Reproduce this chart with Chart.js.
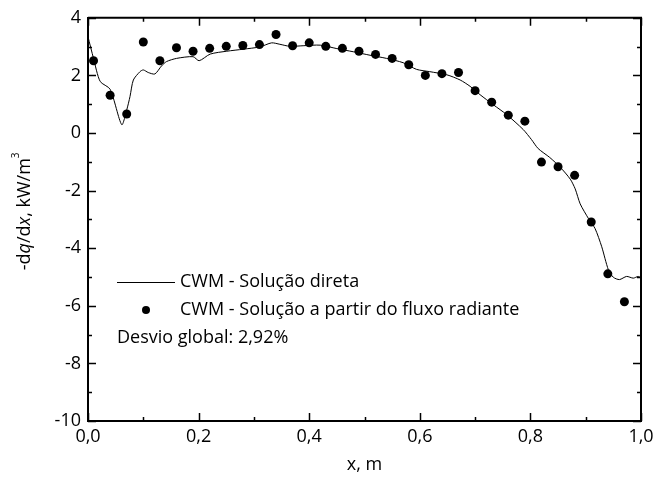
<!DOCTYPE html>
<html>
<head>
<meta charset="utf-8">
<script src="https://cdn.jsdelivr.net/npm/chart.js@4.4.1/dist/chart.umd.min.js"></script>
<style>
  html, body { margin: 0; padding: 0; background: #fff; }
  #wrap { width: 669px; height: 492px; }
</style>
</head>
<body>
<div id="wrap"><canvas id="chart" width="669" height="492"></canvas></div>
<script>
// CWM - solução direta (linha)
var lineX = [0.000, 0.010, 0.022, 0.040, 0.061, 0.070, 0.076, 0.082, 0.094, 0.100,
             0.109, 0.121, 0.133, 0.142, 0.160, 0.190, 0.201, 0.221, 0.251, 0.281,
             0.311, 0.332, 0.347, 0.365, 0.389, 0.420, 0.450, 0.480, 0.510, 0.540,
             0.570, 0.594, 0.618, 0.649, 0.673, 0.691, 0.709, 0.733, 0.757, 0.787,
             0.802, 0.814, 0.835, 0.854, 0.872, 0.881, 0.890, 0.905, 0.917, 0.929,
             0.941, 0.950, 0.961, 0.974, 0.986, 0.995, 1.000];
var lineY = [3.34, 2.59, 1.79, 1.52, 0.29, 0.80, 1.27, 1.84, 2.13, 2.19,
             2.10, 2.05, 2.33, 2.48, 2.59, 2.65, 2.51, 2.74, 2.84, 2.91,
             2.99, 3.13, 3.08, 3.01, 3.03, 3.05, 2.93, 2.82, 2.70, 2.59,
             2.44, 2.21, 2.13, 2.02, 1.84, 1.62, 1.33, 0.98, 0.64, 0.12,
             -0.23, -0.54, -0.85, -1.19, -1.60, -1.94, -2.46, -2.97, -3.32, -3.95,
             -4.75, -5.01, -5.09, -4.98, -5.04, -4.98, -5.03];

// CWM - solução a partir do fluxo radiante (pontos)
var dotX = [0.01, 0.04, 0.07, 0.10, 0.13, 0.16, 0.19, 0.22, 0.25, 0.28, 0.31,
            0.34, 0.37, 0.40, 0.43, 0.46, 0.49, 0.52, 0.55, 0.58, 0.61, 0.64,
            0.67, 0.70, 0.73, 0.76, 0.79, 0.82, 0.85, 0.88, 0.91, 0.94, 0.97];
var dotY = [2.51, 1.31, 0.66, 3.16, 2.51, 2.96, 2.84, 2.94, 3.01, 3.04, 3.07,
            3.42, 3.03, 3.13, 3.01, 2.94, 2.84, 2.73, 2.59, 2.37, 2.00, 2.06,
            2.10, 1.47, 1.07, 0.62, 0.41, -1.01, -1.17, -1.47, -3.09, -4.89, -5.86];

var legendLabels = ['CWM - Solução direta', 'CWM - Solução a partir do fluxo radiante'];
var noteText = 'Desvio global: 2,92%';
var xTitle = 'x, m';

var FONT = '"Open Sans", sans-serif';
var FS = 18;

function toPoints(xs, ys) {
    return xs.map(function (x, i) { return { x: x, y: ys[i] }; });
}

// marcas dos eixos (para dentro, nos quatro lados) + moldura
var tickPlugin = {
    id: 'insideTicks',
    afterDraw: function (chart) {
        var c = chart.ctx, a = chart.chartArea;
        var xs = chart.scales.x, ys = chart.scales.y;
        c.save();
        c.strokeStyle = '#000';
        c.lineWidth = 2;
        c.beginPath();
        c.moveTo(a.left, a.top); c.lineTo(a.right, a.top); c.lineTo(a.right, a.bottom);
        c.stroke();
        c.lineWidth = 1.5;
        c.beginPath();
        for (var i = 0; i <= 10; i++) {
            var px = Math.round(xs.getPixelForValue(i / 10)) + 0.5;
            var len = i % 2 === 0 ? 8 : 4;
            c.moveTo(px, a.bottom); c.lineTo(px, a.bottom - len);
            c.moveTo(px, a.top); c.lineTo(px, a.top + len);
        }
        for (var v = -10; v <= 4; v++) {
            var py = Math.round(ys.getPixelForValue(v)) + 0.5;
            var l2 = v % 2 === 0 ? 8 : 4;
            c.moveTo(a.left, py); c.lineTo(a.left + l2, py);
            c.moveTo(a.right, py); c.lineTo(a.right - l2, py);
        }
        c.stroke();
        c.restore();
    }
};

// título do eixo y com itálico e expoente
var yTitlePlugin = {
    id: 'yTitle',
    afterDraw: function (chart) {
        var c = chart.ctx, a = chart.chartArea;
        var parts = [
            { t: '-d', f: FS + 'px ' + FONT, dy: 0 },
            { t: 'q', f: 'italic ' + FS + 'px ' + FONT, dy: 0 },
            { t: '/d', f: FS + 'px ' + FONT, dy: 0 },
            { t: 'x', f: 'italic ' + FS + 'px ' + FONT, dy: 0 },
            { t: ', kW/m', f: FS + 'px ' + FONT, dy: 0 },
            { t: '3', f: '10px ' + FONT, dy: -11 }
        ];
        c.save();
        var total = 0;
        parts.forEach(function (p) { c.font = p.f; p.w = c.measureText(p.t).width; total += p.w; });
        c.translate(30, (a.top + a.bottom) / 2 - 8);
        c.rotate(-Math.PI / 2);
        c.fillStyle = '#000';
        c.textBaseline = 'alphabetic';
        c.textAlign = 'left';
        var x = -total / 2;
        parts.forEach(function (p) { c.font = p.f; c.fillText(p.t, x, p.dy); x += p.w; });
        c.restore();
    }
};

// legenda e texto dentro da área do gráfico
var legendPlugin = {
    id: 'innerLegend',
    afterDraw: function (chart) {
        var c = chart.ctx, a = chart.chartArea;
        var lx = a.left + 29, y1 = 282, y2 = 310, y3 = 338;
        c.save();
        c.fillStyle = '#000';
        c.strokeStyle = '#000';
        c.font = FS + 'px ' + FONT;
        c.textBaseline = 'middle';
        c.lineWidth = 1;
        c.beginPath();
        c.moveTo(lx, y1 + 0.5); c.lineTo(lx + 58, y1 + 0.5);
        c.stroke();
        c.fillText(legendLabels[0], lx + 63, y1);
        c.beginPath();
        c.arc(lx + 29, y2, 4, 0, Math.PI * 2);
        c.fill();
        c.fillText(legendLabels[1], lx + 63, y2);
        c.fillText(noteText, lx, y3);
        c.restore();
    }
};

var chart = new Chart(document.getElementById('chart').getContext('2d'), {
    type: 'scatter',
    data: {
        datasets: [{
            label: legendLabels[0],
            data: toPoints(lineX, lineY),
            showLine: true,
            borderColor: '#000',
            borderWidth: 1,
            pointRadius: 0,
            tension: 0.25,
            fill: false
        }, {
            label: legendLabels[1],
            data: toPoints(dotX, dotY),
            showLine: false,
            backgroundColor: '#000',
            borderColor: '#000',
            pointRadius: 4.5,
            pointBorderWidth: 0
        }]
    },
    options: {
        responsive: false,
        animation: false,
        layout: { padding: { top: 14, right: 28, left: 0, bottom: 0 } },
        plugins: { legend: { display: false }, tooltip: { enabled: false } },
        scales: {
            x: {
                type: 'linear',
                min: 0, max: 1,
                grid: { display: false, drawTicks: false },
                border: { display: true, color: '#000', width: 2 },
                ticks: {
                    stepSize: 0.2,
                    padding: 5,
                    color: '#000',
                    font: { family: FONT, size: FS },
                    maxRotation: 0,
                    callback: function (v) { return v.toFixed(1).replace('.', ','); }
                },
                title: {
                    display: true, text: xTitle, color: '#000',
                    font: { family: FONT, size: FS },
                    padding: { top: 8, bottom: 16 }
                },
                afterFit: function (s) { s.height = 71; }
            },
            y: {
                min: -10, max: 4,
                grid: { display: false, drawTicks: false },
                border: { display: true, color: '#000', width: 2 },
                ticks: {
                    stepSize: 2,
                    padding: 7,
                    color: '#000',
                    font: { family: FONT, size: FS }
                },
                afterFit: function (s) { s.width = 88; }
            }
        }
    },
    plugins: [tickPlugin, yTitlePlugin, legendPlugin]
});
</script>
</body>
</html>
